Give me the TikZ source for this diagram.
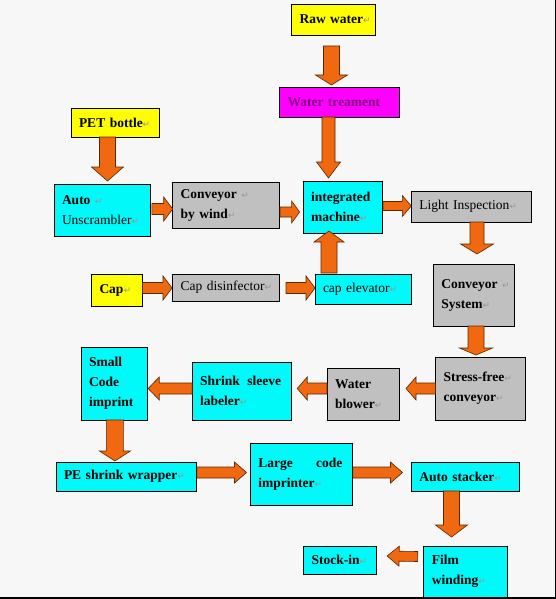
\documentclass[tikz,border=0pt]{standalone}
\usepackage{fontspec}
\setmainfont{Liberation Serif}
\newfontfamily\symfont{DejaVu Sans}
\usetikzlibrary{calc}

\definecolor{pagebg}{RGB}{247,247,247}
\definecolor{boxcyan}{RGB}{0,250,250}
\definecolor{boxgray}{RGB}{192,192,192}
\definecolor{boxyellow}{RGB}{255,255,0}
\definecolor{boxmagenta}{RGB}{255,0,255}
\definecolor{textpurple}{RGB}{128,0,128}
\definecolor{flowfill}{RGB}{240,104,16}
\definecolor{flowedge}{RGB}{90,40,0}
\definecolor{markgray}{RGB}{150,150,150}

% paragraph mark after the labels
\newcommand{\retmark}{{\symfont\fontsize{9}{9}\selectfont\color{markgray}↵}}

% block arrow: shaft width, head width, head length, from, to
\newcommand{\blockarrow}[5]{%
  \path let \p1=(#4), \p2=(#5) in \pgfextra{%
    \pgfmathsetmacro\baAngle{atan2(\y2-\y1,\x2-\x1)}%
    \pgfmathsetmacro\baLength{veclen(\x2-\x1,\y2-\y1)}%
    \xdef\baAng{\baAngle}\xdef\baLen{\baLength}%
    \xdef\baX{\x1}\xdef\baY{\y1}};
  \pgfmathsetmacro\baS{#1/2}%
  \pgfmathsetmacro\baH{#2/2}%
  \pgfmathsetmacro\baB{\baLen-#3}%
  \draw[flow, shift={(\baX,\baY)}, rotate=\baAng]
    (0pt,-\baS pt) -- (\baB pt,-\baS pt) -- (\baB pt,-\baH pt) -- (\baLen pt,0pt)
    -- (\baB pt,\baH pt) -- (\baB pt,\baS pt) -- (0pt,\baS pt) -- cycle;
}

\tikzset{
  box/.style={draw, line width=0.8pt, anchor=north west, inner xsep=8pt,
    inner ysep=0pt, outer sep=0pt, align=left,
    font=\fontsize{13.5}{20}\selectfont,
    execute at begin node={\hyphenpenalty=10000\exhyphenpenalty=10000}},
  cbox/.style={box, fill=boxcyan},
  gbox/.style={box, fill=boxgray},
  ybox/.style={box, fill=boxyellow},
  mbox/.style={box, fill=boxmagenta, text=textpurple},
  flow/.style={fill=flowfill, draw=flowedge, line width=0.6pt, line join=miter}
}

\begin{document}
\begin{tikzpicture}[x=1pt, y=-1pt]

% ---- page ----
\useasboundingbox (0,0) rectangle (556,599);
\fill[pagebg] (0,0) rectangle (556,599);

% ---- water line ----
\node[ybox, text width=68pt, minimum height=31pt] (raw) at (291.5,4)
  {\textbf{Raw~water}\retmark};
\node[mbox, text width=104pt, minimum height=30pt] (treat) at (279.5,87)
  {\textbf{Water~treament}};

% ---- bottle line ----
\node[ybox, text width=72.5pt, minimum height=29pt] (pet) at (71,108)
  {\textbf{PET~bottle}\retmark};
\node[cbox, text width=80.5pt, minimum height=52pt] (auto) at (54,184)
  {\textbf{Auto}~\retmark\\Unscrambler\retmark};
\node[gbox, text width=90.7pt, minimum height=46pt] (cbw) at (172.7,182)
  {\textbf{Conveyor}~\retmark\\\textbf{by~wind}\retmark};
\node[cbox, text width=63pt, minimum height=52pt] (integ) at (303.2,181)
  {\textbf{integrated}\\\textbf{machine}\retmark};
\node[gbox, text width=104pt, minimum height=31pt] (light) at (411.3,191)
  {Light~Inspection\retmark};

% ---- cap line ----
\node[ybox, text width=35pt, minimum height=32pt] (cap) at (91.5,274)
  {\textbf{Cap}\retmark};
\node[gbox, text width=90.7pt, minimum height=27pt] (capdis) at (172.7,274)
  {Cap~disinfector\retmark};
\node[cbox, text width=80.3pt, minimum height=30pt] (capel) at (315,274)
  {cap~elevator\retmark};

% ---- return line ----
\node[gbox, text width=65pt, minimum height=62pt] (consys) at (433.3,264)
  {\textbf{Conveyor}~\retmark\\\textbf{System}\retmark};
\node[gbox, text width=74pt, minimum height=63pt] (stress) at (435.5,357)
  {\textbf{Stress-free}\retmark\\\textbf{conveyor}\retmark};
\node[gbox, text width=56.6pt, minimum height=52pt] (blower) at (327,368)
  {\textbf{Water}\\\textbf{blower}\retmark};
\node[cbox, text width=83.3pt, minimum height=58pt] (shrink) at (192.2,362)
  {\makebox[81pt][l]{\textbf{Shrink}\hfill\textbf{sleeve}}\\\textbf{labeler}\retmark};
\node[cbox, text width=50pt, minimum height=73pt] (small) at (81.2,347)
  {\textbf{Small}\\\textbf{Code}\\\textbf{imprint}};

% ---- packing line ----
\node[cbox, text width=124.8pt, minimum height=29pt] (pe) at (56,462)
  {\textbf{PE~shrink~wrapper}\retmark};
\node[cbox, text width=86.4pt, minimum height=62pt] (large) at (250.4,443)
  {\makebox[84pt][l]{\textbf{Large}\hfill\textbf{code}}\\\textbf{imprinter}\retmark};
\node[cbox, text width=92.2pt, minimum height=29pt] (stacker) at (411.3,462)
  {\textbf{Auto~stacker}\retmark};
\node[cbox, text width=67.2pt, minimum height=51pt] (film) at (423.8,546)
  {\textbf{Film}\\\textbf{winding}\retmark};
\node[cbox, text width=57pt, minimum height=28pt] (stock) at (303.5,546)
  {\textbf{Stock-in}\retmark};

% ---- arrows ----
\blockarrow{16}{32}{10}{$(raw.south)+(-2,11)$}{$(treat.north)+(-8,-2)$}
\blockarrow{13}{24}{16}{$(treat.south)+(-11,0)$}{$(integ.north)+(-14.2,-3)$}
\blockarrow{16}{32}{14}{$(pet.south)+(-7.75,0)$}{$(auto.north)+(5.25,-3)$}
\blockarrow{11}{24}{9}{$(auto.east)+(1.3,-1)$}{$(cbw.west)+(0,4)$}
\blockarrow{10}{22}{8}{$(cbw.east)+(0.6,7)$}{$(integ.west)+(-3.6,5)$}
\blockarrow{9}{21}{9}{$(integ.east)+(0.8,-1)$}{$(light.west)+(0,-0.5)$}
\blockarrow{14}{33}{10}{$(light.south)+(5.7,0)$}{$(consys.north)+(3.2,-10)$}
\blockarrow{16}{30}{11}{$(capel.north)+(-34.15,-1)$}{$(integ.south)+(-13.7,-2)$}
\blockarrow{11}{24}{9}{$(cap.east)+(0,-2)$}{$(capdis.west)+(-0.7,0.5)$}
\blockarrow{11}{24}{9}{$(capdis.east)+(6.6,0.5)$}{$(capel.west)+(0,-1)$}
\blockarrow{16}{33}{7}{$(consys.south)+(2.2,0)$}{$(stress.north)+(-4.5,-2)$}
\blockarrow{11}{23}{10}{$(stress.west)+(0,0)$}{$(blower.east)+(6.4,-5.5)$}
\blockarrow{11}{23}{10}{$(blower.west)+(0,-5.5)$}{$(shrink.east)+(5.7,-2.5)$}
\blockarrow{11}{23}{11}{$(shrink.west)+(0,-2.5)$}{$(small.east)+(1,5)$}
\blockarrow{17}{31}{10}{$(small.south)+(0.7,0)$}{$(pe.north)+(-11.5,-1)$}
\blockarrow{11}{21}{12}{$(pe.east)+(0,-4)$}{$(large.west)+(-3.9,-1.5)$}
\blockarrow{11}{21}{12}{$(large.east)+(0,-1.5)$}{$(stacker.west)+(-8.8,-4)$}
\blockarrow{16}{32}{12}{$(stacker.south)+(-13.9,0)$}{$(film.north)+(-13.9,-9)$}
\blockarrow{10}{20}{12}{$(film.west)+(-6.1,-15)$}{$(stock.east)+(10.6,-4)$}

% ---- frame edges ----
\fill[black] (554.5,0) rectangle (556,599);
\fill[black] (0,597) rectangle (556,599);

\end{tikzpicture}
\end{document}
